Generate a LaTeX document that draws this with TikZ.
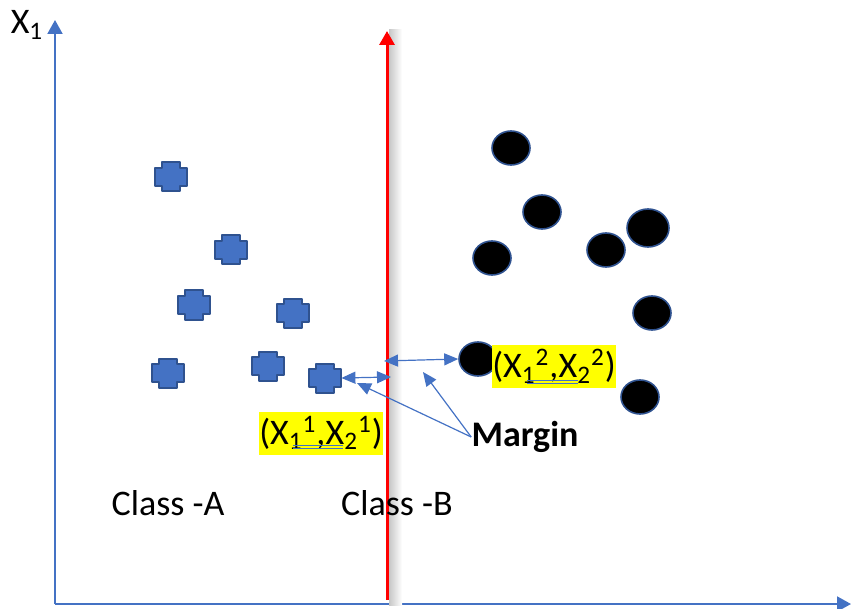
\documentclass[tikz,border=0pt]{standalone}
\usepackage{fontspec}
\setmainfont{Carlito}
\usetikzlibrary{arrows.meta,positioning,calc,shapes.geometric}
\definecolor{axisblue}{HTML}{4472C4}
\definecolor{crossedge}{HTML}{2F528F}
\definecolor{hilite}{HTML}{FFFF00}
\definecolor{sepred}{HTML}{FF0000}
\tikzset{
  axisline/.style={axisblue, line width=1pt, -{Triangle[length=7pt,width=7.5pt]}},
  sepline/.style={sepred, line width=1.5pt, -{Triangle[length=7pt,width=7.5pt]}},
  marginarrow/.style={axisblue, line width=0.6pt, {Triangle[length=7pt,width=6pt]}-{Triangle[length=7pt,width=6pt]}},
  pointer/.style={axisblue, line width=0.6pt, -{Triangle[length=7pt,width=6pt]}},
  plusbox/.style={rectangle, minimum width=16pt, minimum height=14.5pt, inner sep=0pt},
  plusline/.style={fill=axisblue, draw=crossedge, line width=1pt, line join=round},
  dot/.style={ellipse, fill=black, draw=crossedge, line width=0.8pt, minimum width=19pt, minimum height=17pt, inner sep=0pt},
  lbl/.style={font=\fontsize{18}{21}\selectfont, inner sep=0pt},
  hilbox/.style={lbl, fill=hilite, minimum width=58.5pt, minimum height=21.5pt},
}

\begin{document}
\begin{tikzpicture}[x=0.5pt, y=-0.5pt]
  \useasboundingbox (0,0) rectangle (851,609);
  % axes
  \coordinate (origin) at (55,604);
  \coordinate (ytop) at (55,20);
  \coordinate (xend) at (851,604);
  \draw[axisline] (origin) -- (ytop);
  \draw[axisline] (origin) -- (xend);
  \node[lbl] (ylab) at (27,25) {X\textsubscript{1}};
  % separating line with its soft shadow
  \shade[left color=black!22, right color=white] (389,30) rectangle (402,605);
  \coordinate (sepbot) at (387,600);
  \coordinate (septop) at (387,31);
  \draw[sepline] (sepbot) -- (septop);
  % class A: blue crosses
  \foreach \n/\px/\py in {a1/171/177, a2/231/250, a3/194/305, a4/293/313, a5/168/373, a6/268/366, a7/325/378} {
    \draw[plusline, shift={(\px,\py)}] (-16,-9) -- (-9,-9) -- (-9,-14.5) -- (9,-14.5) -- (9,-9) -- (16,-9)
          -- (16,9) -- (9,9) -- (9,14.5) -- (-9,14.5) -- (-9,9) -- (-16,9) -- cycle;
    \node[plusbox] (\n) at (\px,\py) {};
  }
  % class B: black dots
  \node[dot] (b1) at (511,148) {};
  \node[dot] (b2) at (542,212) {};
  \node[dot, minimum width=21pt, minimum height=19pt] (b3) at (648,228) {};
  \node[dot] (b4) at (606,250) {};
  \node[dot] (b5) at (492,258) {};
  \node[dot] (b6) at (652,313) {};
  \node[dot] (b7) at (478,359) {};
  \node[dot] (b8) at (640,397) {};
  % support vector labels
  \node[hilbox] (sv1) at (321,433) {(X\textsubscript{1}\textsuperscript{1},X\textsubscript{2}\textsuperscript{1})};
  \node[hilbox] (sv2) at (554,366) {(X\textsubscript{1}\textsuperscript{2},X\textsubscript{2}\textsuperscript{2})};
  \draw[axisblue, line width=0.4pt] ($(sv1.center)+(-28,12)$) -- ++(50,0);
  \draw[axisblue, line width=0.4pt] ($(sv1.center)+(-28,15)$) -- ++(50,0);
  \draw[axisblue, line width=0.4pt] ($(sv2.center)+(-27,14)$) -- ++(51,0);
  \draw[axisblue, line width=0.4pt] ($(sv2.center)+(-27,17)$) -- ++(51,0);
  % margin arrows
  \coordinate (lm) at (391,377);
  \coordinate (rm) at (384,361);
  \draw[marginarrow] (a7.east) -- (lm);
  \draw[marginarrow] (rm) -- (b7.west);
  \node[lbl, font=\fontsize{18}{21}\selectfont\bfseries] (margin) at (525,437) {Margin};
  \coordinate (m1) at (357,383);
  \coordinate (m2) at (423,372);
  \draw[pointer] (margin.west) -- (m1);
  \draw[pointer] (margin.west) -- (m2);
  % class names
  \node[lbl] (clsA) at (168,503) {Class -A};
  \node[lbl] (clsB) at (397,503) {Class -B};
\end{tikzpicture}
\end{document}
